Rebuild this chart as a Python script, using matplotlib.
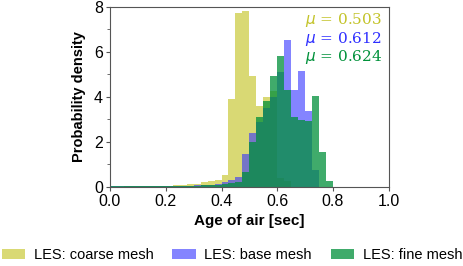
import numpy as np
import matplotlib
matplotlib.use("Agg")
import matplotlib.pyplot as plt
from matplotlib.ticker import MultipleLocator

plt.rcParams['font.family'] = ['Liberation Sans', 'DejaVu Sans']

# histogram bins, width 0.025 from 0.0 to 0.8
bin_width = 0.025
bin_left = np.arange(32) * bin_width

coarse = [0.02, 0.02, 0.03, 0.05, 0.03, 0.03, 0.04, 0.05, 0.06, 0.08, 0.10, 0.12,
          0.15, 0.20, 0.26, 0.33, 0.53, 3.90, 7.72, 7.84, 4.93, 3.60, 3.99, 4.25,
          0.40, 0.25, 0.0, 0.0, 0.0, 0.0, 0.0, 0.0]
base = [0.05, 0.06, 0.04, 0.05, 0.04, 0.04, 0.05, 0.05, 0.05, 0.05, 0.06, 0.06,
        0.07, 0.08, 0.10, 0.12, 0.20, 0.30, 0.46, 1.45, 2.41, 2.90, 3.50, 4.00,
        5.10, 6.55, 4.31, 5.17, 3.39, 0.75, 0.0, 0.0]
fine = [0.05, 0.05, 0.05, 0.05, 0.05, 0.05, 0.05, 0.05, 0.05, 0.05, 0.05, 0.06,
        0.06, 0.07, 0.08, 0.10, 0.12, 0.18, 0.24, 0.65, 2.00, 3.12, 3.80, 4.95,
        5.82, 4.31, 3.10, 2.98, 2.95, 4.06, 1.57, 0.27]

labels = ["LES: coarse mesh", "LES: base mesh", "LES: fine mesh"]
means = [0.503, 0.612, 0.624]

fig = plt.figure(figsize=(4.64, 2.66), dpi=100)
ax = fig.add_axes([0.237, 0.297, 0.601, 0.677])

ax.bar(bin_left, coarse, width=bin_width, align='edge', color='#cdcd46', alpha=0.75,
       linewidth=0, label=labels[0])
ax.bar(bin_left, base, width=bin_width, align='edge', color='#3232ff', alpha=0.6,
       linewidth=0, label=labels[1])
ax.bar(bin_left, fine, width=bin_width, align='edge', color='#008f3a', alpha=0.75,
       linewidth=0, label=labels[2])

ax.set_xlim(0, 1.0)
ax.set_ylim(0, 8)
ax.xaxis.set_major_locator(MultipleLocator(0.2))
ax.yaxis.set_major_locator(MultipleLocator(2))
ax.yaxis.set_minor_locator(MultipleLocator(1))
ax.tick_params(labelsize=11.5, length=3, color='#555555', pad=2)
ax.tick_params(which='minor', length=2, color='#555555')
for s in ax.spines.values():
    s.set_color('#555555')

ax.set_xlabel("Age of air [sec]", fontsize=11, fontweight='bold', labelpad=4)
ax.set_ylabel("Probability density", fontsize=10.5, fontweight='bold', labelpad=6)

mu_colors = ['#c3c328', '#2e2eff', '#00913a']
for i, (m, c) in enumerate(zip(means, mu_colors)):
    ax.text(0.975, 0.925 - i * 0.102, r"$\mu$ = %.3f" % m, transform=ax.transAxes,
            ha='right', va='center', color=c, fontsize=11, family='DejaVu Serif')

fig.legend(loc='lower center', bbox_to_anchor=(0.5, -0.035), ncol=3, frameon=False,
           fontsize=10.5, handlelength=1.6, handleheight=0.6, handletextpad=0.6,
           columnspacing=1.3)

fig.savefig("out.png", dpi=100)
